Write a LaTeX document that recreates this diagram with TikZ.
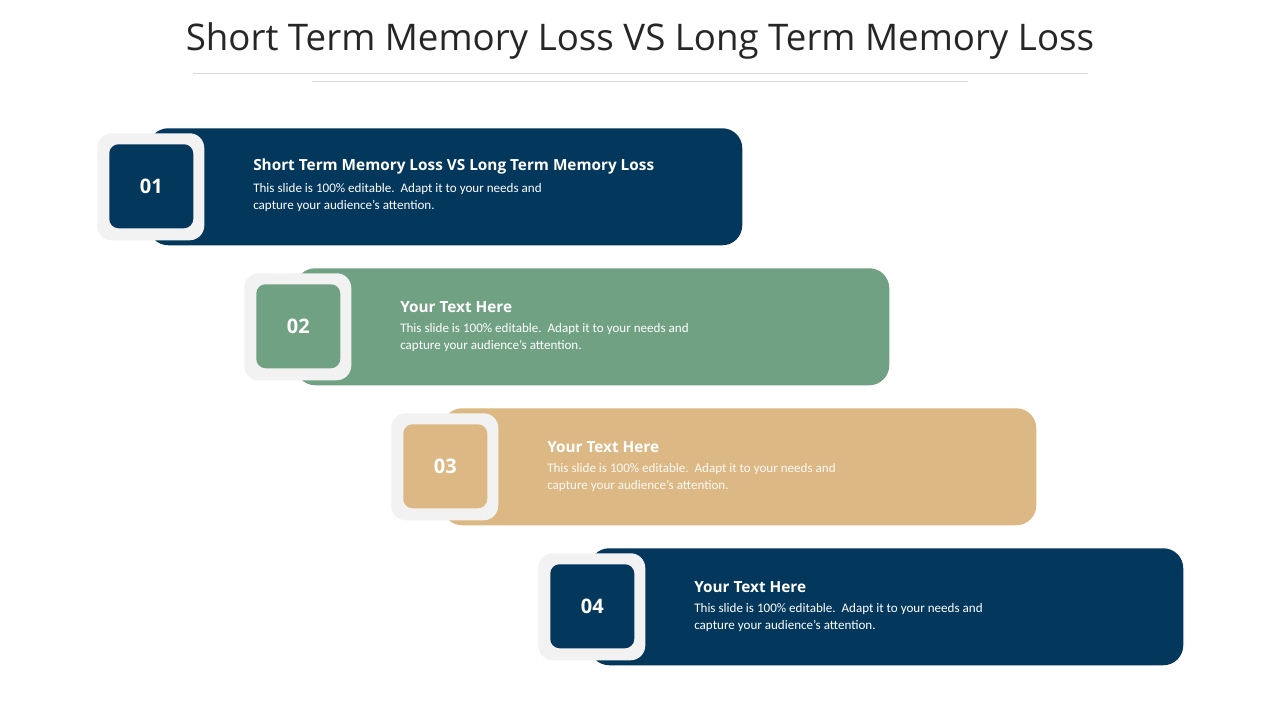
\documentclass[tikz,border=0pt]{standalone}
\usepackage{fontspec}
\setmainfont{Carlito}
\newfontfamily\osans{Open Sans}
\definecolor{navy}{HTML}{03375C}
\definecolor{sage}{HTML}{71A183}
\definecolor{tan}{HTML}{DCB884}
\definecolor{frame}{HTML}{F2F2F2}
\begin{document}
\begin{tikzpicture}[x=0.75pt,y=-0.75pt,
  bar/.style={rounded corners=15pt,inner sep=0pt,minimum width=445.5pt,minimum height=87.75pt,anchor=north west},
  framebox/.style={fill=frame,rounded corners=11pt,inner sep=0pt,minimum size=80.25pt,anchor=north west},
  numbox/.style={rounded corners=7pt,inner sep=0pt,minimum size=63pt,anchor=north west,text=white,font=\osans\bfseries\fontsize{15}{18}\selectfont},
  head/.style={anchor=west,inner sep=0pt,text=white,font=\osans\bfseries\fontsize{11.5}{14}\selectfont},
  body/.style={anchor=north west,inner sep=0pt,align=left,font=\fontsize{9.8}{12.8}\selectfont}]
\useasboundingbox (0,0) rectangle (1280,720);
\fill[white] (0,0) rectangle (1280,720);
\node[inner sep=0pt,text=black!85,font=\osans\fontsize{27.5}{32}\selectfont] (title) at (640,41) {Short Term Memory Loss VS Long Term Memory Loss};
\draw[black!15,line width=0.6pt] (193,73) coordinate (l1a) -- (1088,73) coordinate (l1b);
\draw[black!15,line width=0.6pt] (312,81) coordinate (l2a) -- (968,81) coordinate (l2b);
\foreach \i/\c/\n/\h/\tc in {0/navy/01/Short Term Memory Loss VS Long Term Memory Loss/white,1/sage/02/Your Text Here/white,2/tan/03/Your Text Here/white!92!tan,3/navy/04/Your Text Here/white}{
  \pgfmathsetmacro\dx{147*\i}
  \pgfmathsetmacro\dy{140*\i}
  \node[bar,fill=\c] (bar\n) at (148+\dx,128+\dy) {};
  \node[framebox] (frame\n) at (97+\dx,133+\dy) {};
  \node[numbox,fill=\c] (num\n) at (109+\dx,144+\dy) {\n};
  \node[head] (head\n) at (253+\dx,167+\dy) {\h};
  \node[body,text=\tc] (body\n) at (253+\dx,183+\dy) {This slide is 100\% editable.\ \ Adapt it to your needs and\\capture your audience's attention.};
}
\end{tikzpicture}
\end{document}
